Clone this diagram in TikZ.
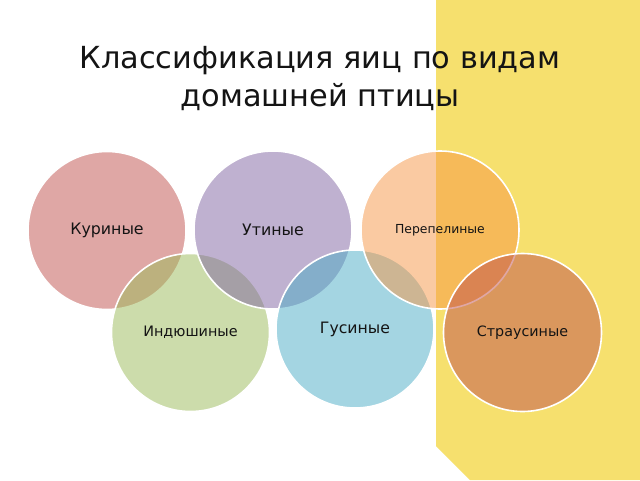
\documentclass[tikz,border=0pt]{standalone}
\usepackage{fontspec}
\setmainfont{DejaVu Sans}
\definecolor{panelyellow}{RGB}{246,224,110}
\definecolor{accred}{HTML}{C0504D}
\definecolor{accgreen}{HTML}{9BBB59}
\definecolor{accpurple}{HTML}{8064A2}
\definecolor{accaqua}{HTML}{4BACC6}
\definecolor{accorange}{HTML}{F79646}
\definecolor{txt}{RGB}{20,20,20}
\tikzset{
  bubble/.style={circle, minimum size=158pt, inner sep=0pt, fill=#1,
    fill opacity=0.5, text opacity=1, draw=white, line width=1.6pt,
    text=txt},
}
\begin{document}
\begin{tikzpicture}[x=1pt,y=-1pt]
\useasboundingbox (0,0) rectangle (640,480);
\fill[white] (0,0) rectangle (640,480);
\fill[panelyellow] (436,0) -- (640,0) -- (640,480) -- (470,480) -- (436,446) -- cycle;

\node[font=\fontsize{30.4}{38.5}\selectfont, align=center, text=txt, anchor=base] (title) at (320,106.5)
  {Классификация яиц по видам\\домашней птицы};

\node[bubble=accred, font=\fontsize{15.8}{18}\selectfont] (kur) at (107,230.5) {Куриные};
\node[bubble=accgreen, font=\fontsize{14.4}{16}\selectfont] (ind) at (190.5,332.5) {Индюшиные};
\node[bubble=accpurple, font=\fontsize{15.8}{18}\selectfont] (uti) at (273,230) {Утиные};
\node[bubble=accaqua, font=\fontsize{15.7}{18}\selectfont] (gus) at (355,329) {Гусиные};
\node[bubble=accorange, font=\fontsize{12.4}{15}\selectfont] (per) at (440,230) {Перепелиные};
\node[bubble=accred, font=\fontsize{14.3}{16}\selectfont] (str) at (522.5,332.5) {Страусиные};
\end{tikzpicture}
\end{document}
